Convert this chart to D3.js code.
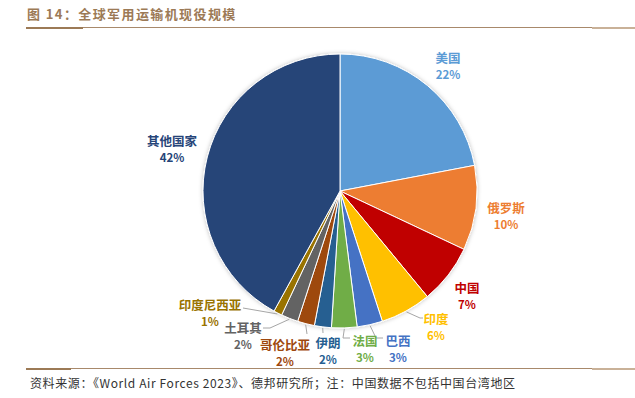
<!DOCTYPE html>
<html>
<head>
<meta charset="utf-8">
<script src="https://cdn.jsdelivr.net/npm/d3@7"></script>
<style>
  body { margin: 0; background: #fff; }
  text { font-family: "Noto Sans CJK SC", "Liberation Sans", sans-serif; }
</style>
</head>
<body>
<svg id="chart" width="635" height="398"></svg>
<script>
// data
const countries = ["美国", "俄罗斯", "中国", "印度", "巴西", "法国", "伊朗", "哥伦比亚", "土耳其", "印度尼西亚", "其他国家"];
const shares = [22, 10, 7, 6, 3, 3, 2, 2, 2, 1, 42];
const colors = ["#5B9BD5", "#ED7D31", "#C00000", "#FFC000", "#4472C4", "#70AD47", "#255E91", "#9E480E", "#636363", "#997300", "#264478"];

// label layout (name position; % goes underneath)
const labelPos = [[448, 57], [506, 207], [467, 287], [436, 318], [398, 340], [365, 340], [328, 342], [285, 344], [243, 327], [210, 304], [172, 140]];
// leader lines: [elbow, end] or null
const leaders = [null, null, null,
  [[420, 318], [423, 318]],
  [[376, 338], [383, 338]],
  [[343, 338], [350, 338]],
  [[323, 333], [323, 333]],
  [[307, 334], [307, 334]],
  [[270, 328], [263, 328]],
  [[243, 308], [243, 308]],
  null];

const svg = d3.select("#chart");
const cx = 340, cy = 191, r = 137;

// header
svg.append("text").attr("x", 27).attr("y", 19)
  .attr("font-size", 13).attr("font-weight", "bold").attr("fill", "#9C7A56")
  .attr("letter-spacing", 1.4)
  .text("图 14：全球军用运输机现役规模");
svg.append("line").attr("x1", 26).attr("x2", 635).attr("y1", 27.5).attr("y2", 27.5)
  .attr("stroke", "#A8896B").attr("stroke-width", 1);
svg.append("rect").attr("x", 26).attr("y", 27).attr("width", 57).attr("height", 2).attr("fill", "#9C7A56");
svg.append("rect").attr("x", 592).attr("y", 27).attr("width", 43).attr("height", 2).attr("fill", "#C9B198");

// footer
svg.append("line").attr("x1", 26).attr("x2", 635).attr("y1", 368.5).attr("y2", 368.5)
  .attr("stroke", "#A8896B").attr("stroke-width", 1);
svg.append("rect").attr("x", 26).attr("y", 368).attr("width", 45).attr("height", 2).attr("fill", "#9C7A56");
svg.append("rect").attr("x", 592).attr("y", 368).attr("width", 43).attr("height", 2).attr("fill", "#C9B198");
svg.append("text").attr("x", 30).attr("y", 388)
  .attr("font-size", 12).attr("fill", "#333").attr("letter-spacing", 0.6)
  .text("资料来源：《World Air Forces 2023》、德邦研究所；注：中国数据不包括中国台湾地区");

// shadow
const defs = svg.append("defs");
const f = defs.append("filter").attr("id", "sh").attr("x", "-10%").attr("y", "-10%").attr("width", "120%").attr("height", "120%");
f.append("feDropShadow").attr("dx", 0).attr("dy", 0).attr("stdDeviation", 2)
  .attr("flood-color", "#000").attr("flood-opacity", 0.25);

const pie = d3.pie().sort(null).value(d => d);
const arcs = pie(shares);
const arc = d3.arc().innerRadius(0).outerRadius(r);

const g = svg.append("g").attr("transform", `translate(${cx},${cy})`);
g.append("g").attr("filter", "url(#sh)")
  .selectAll("path").data(arcs).enter().append("path")
  .attr("d", arc)
  .attr("fill", (d, i) => colors[i])
  .attr("stroke", "#fff").attr("stroke-width", 1);

// leader lines
arcs.forEach((d, i) => {
  if (!leaders[i]) return;
  const a = (d.startAngle + d.endAngle) / 2;
  const p0 = [cx + (r + 1) * Math.sin(a), cy - (r + 1) * Math.cos(a)];
  const pts = [p0, leaders[i][0], leaders[i][1]];
  svg.append("path")
    .attr("d", d3.line()(pts))
    .attr("fill", "none").attr("stroke", "#A6A6A6").attr("stroke-width", 1);
});

// labels
const lab = svg.append("g");
countries.forEach((c, i) => {
  const [x, y] = labelPos[i];
  lab.append("text").attr("x", x).attr("y", y)
    .attr("text-anchor", "middle").attr("dominant-baseline", "central")
    .attr("font-size", 12.5).attr("font-weight", "bold").attr("fill", colors[i])
    .text(c);
  lab.append("text").attr("x", x).attr("y", y + 17)
    .attr("text-anchor", "middle").attr("dominant-baseline", "central")
    .attr("font-size", 11.5).attr("font-weight", "bold").attr("fill", colors[i])
    .text(shares[i] + "%");
});
</script>
</body>
</html>
